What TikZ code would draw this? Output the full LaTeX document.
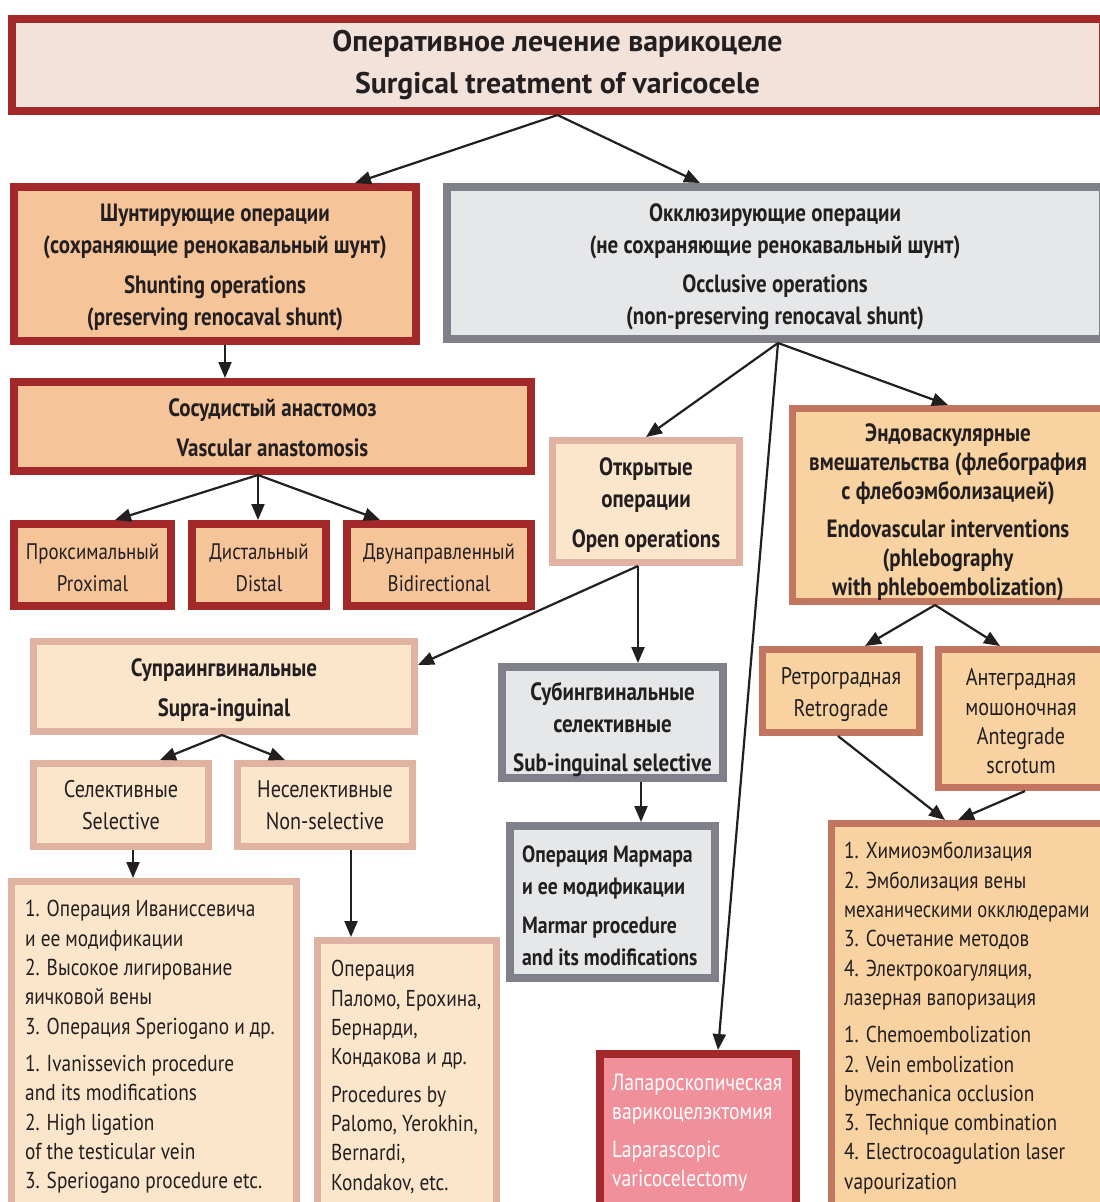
\documentclass[tikz,border=0pt]{standalone}
\usepackage{fontspec}
\setmainfont{PT Sans}[FakeStretch=0.84]
\newfontfamily\titlefont{PT Sans}
\usetikzlibrary{arrows.meta,calc}
\definecolor{cRed}{HTML}{A3282A}
\definecolor{cTitle}{HTML}{F2E2DA}
\definecolor{cPeach}{HTML}{F5C499}
\definecolor{cGrayB}{HTML}{80808A}
\definecolor{cGrayF}{HTML}{E6E7E8}
\definecolor{cPinkB}{HTML}{DFB2A1}
\definecolor{cCream}{HTML}{FBE6CC}
\definecolor{cTerra}{HTML}{C2765F}
\definecolor{cSand}{HTML}{F8D2A1}
\definecolor{cLap}{HTML}{F0909A}
\definecolor{cInk}{HTML}{231F20}
\tikzset{
  base/.style={rectangle, inner sep=0pt, align=center, text=cInk},
  redbox/.style={base, draw=cRed, line width=8pt, fill=cPeach},
  titlebox/.style={base, draw=cRed, line width=8pt, fill=cTitle},
  graybox/.style={base, draw=cGrayB, line width=8pt, fill=cGrayF},
  pinkbox/.style={base, draw=cPinkB, line width=7pt, fill=cCream},
  terrabox/.style={base, draw=cTerra, line width=7pt, fill=cSand},
  lapbox/.style={base, draw=cRed, line width=8pt, fill=cLap},
  txt/.style={inner sep=0pt, align=center, text=cInk},
  hd/.style={txt, font=\fontsize{25}{32}\selectfont\bfseries},
  hdt/.style={txt, font=\fontsize{25}{29}\selectfont\bfseries},
  rg/.style={txt, font=\fontsize{22.5}{32}\selectfont},
  rgb/.style={txt, font=\fontsize{24}{32}\selectfont},
  rgt/.style={txt, font=\fontsize{24}{29.3}\selectfont},
  listtxt/.style={inner sep=0pt, align=left, anchor=west, text=cInk, font=\fontsize{23}{29.3}\selectfont},
  arr/.style={line width=2.2pt, draw=cInk, -{Triangle[length=16pt,width=13pt]}},
}
\begin{document}
\begin{tikzpicture}[x=1pt,y=-1pt]
\useasboundingbox (0,0) rectangle (1100,1202);
\fill[white] (0,0) rectangle (1100,1202);

% title
\node[titlebox, minimum width=1091pt, minimum height=92pt, font=\titlefont\fontsize{29.8}{42}\selectfont\bfseries] (title) at (557.5,65)
  {Оперативное лечение варикоцеле\\Surgical treatment of varicocele};

% level 1
\node[redbox, minimum width=402pt, minimum height=154pt] (shunt) at (215,264) {};
\node[hd] (shuntt) at ([yshift=-3pt]shunt.center)
  {Шунтирующие операции\\(сохраняющие ренокавальный шунт)\\[8pt]Shunting operations\\(preserving renocaval shunt)};
\node[graybox, minimum width=656pt, minimum height=152pt] (occl) at (775,263) {};
\node[hd] (occlt) at ([yshift=-3.5pt]occl.center)
  {Окклюзирующие операции\\(не сохраняющие ренокавальный шунт)\\[7pt]Occlusive operations\\(non-preserving renocaval shunt)};

% shunting branch
\node[redbox, minimum width=517pt, minimum height=89pt] (vasc) at (272.5,426.5) {};
\node[hd] (vasct) at ([yshift=-1pt]vasc.center) {Сосудистый анастомоз\\[8pt]Vascular anastomosis};
\node[redbox, minimum width=157pt, minimum height=82pt] (prox) at (92.5,565) {};
\node[rg] (proxt) at ([yshift=-2.5pt]prox.center) {Проксимальный\\Proximal};
\node[redbox, minimum width=134pt, minimum height=82pt] (dist) at (259,565) {};
\node[rg] (distt) at ([yshift=-2.5pt]dist.center) {Дистальный\\Distal};
\node[redbox, minimum width=184pt, minimum height=82pt] (bidir) at (439,565) {};
\node[rg] (bidirt) at ([yshift=-2.5pt]bidir.center) {Двунаправленный\\Bidirectional};

% occlusive branch
\node[pinkbox, minimum width=187pt, minimum height=122pt] (open) at (646,501.5) {};
\node[hd] (opent) at ([yshift=-4pt]open.center) {Открытые\\операции\\[8pt]Open operations};
\node[terrabox, minimum width=311pt, minimum height=193pt] (endo) at (948,505) {};
\node[hdt] (endot) at ([yshift=-7pt]endo.center)
  {Эндоваскулярные\\вмешательства (флебография\\с флебоэмболизацией)\\[9pt]Endovascular interventions\\(phlebography\\with phleboembolization)};

\node[pinkbox, minimum width=381pt, minimum height=90pt] (supra) at (224,686.5) {};
\node[hd] (suprat) at ([yshift=-4pt]supra.center) {Супраингвинальные\\[8pt]Supra-inguinal};
\node[pinkbox, minimum width=175pt, minimum height=83pt] (sel) at (121,805) {};
\node[rgb] (selt) at (sel.center) {Селективные\\Selective};
\node[pinkbox, minimum width=175pt, minimum height=83pt] (nonsel) at (325,805) {};
\node[rgb] (nonselt) at (nonsel.center) {Неселективные\\Non-selective};

\node[pinkbox, minimum width=285pt, minimum height=330pt] (list1) at (154,1046.5) {};
\node[listtxt] (list1t) at (25,1047)
  {1. Операция Иванисcевича\\и ее модификации\\2. Высокое лигирование\\яичковой вены\\3. Операция Speriogano и др.\\[8pt]1. Ivanissevich procedure\\and its modifications\\2. High ligation\\of the testicular vein\\3. Speriogano procedure etc.};

\node[pinkbox, minimum width=179pt, minimum height=271pt] (list2) at (407,1076) {};
\node[listtxt] (list2t) at (331,1077)
  {Операция\\Паломо, Ерохина,\\Бернарди,\\Кондакова и др.\\[8pt]Procedures by\\Palomo, Yerokhin,\\Bernardi,\\Kondakov, etc.};

\node[graybox, minimum width=221pt, minimum height=111pt] (sub) at (612.5,722.5) {};
\node[hd] (subt) at ([yshift=-7pt]sub.center) {Субингвинальные\\селективные\\[7pt]Sub-inguinal selective};
\node[graybox, minimum width=205pt, minimum height=152pt] (marmar) at (612.5,902) {};
\node[listtxt, font=\fontsize{23.5}{31.5}\selectfont\bfseries] (marmart) at (522,906)
  {Операция Мармара\\и ее модификации\\[8pt]Marmar procedure\\and its modifications};

\node[lapbox, minimum width=196pt, minimum height=157pt] (lap) at (698,1132.5) {};
\node[listtxt, text=white, font=\fontsize{23.4}{29.5}\selectfont] (lapt) at (612,1132.5)
  {Лапароскопическая\\варикоцелэктомия\\[8pt]Laparascopic\\varicocelectomy};

\node[terrabox, minimum width=157pt, minimum height=83pt] (retro) at (841,691) {};
\node[rgb] (retrot) at ([yshift=-4pt]retro.center) {Ретроградная\\Retrograde};
\node[terrabox, minimum width=165pt, minimum height=138pt] (ante) at (1021,718.5) {};
\node[rgt] (antet) at ([yshift=-3pt]ante.center) {Антеградная\\мошоночная\\Antegrade\\scrotum};

\node[terrabox, minimum width=272pt, minimum height=388pt] (list3) at (967.5,1017.5) {};
\node[listtxt] (list3t) at (844,1018)
  {1. Химиоэмболизация\\2. Эмболизация вены\\\scalebox{0.965}[1]{механическими окклюдерами}\\3. Сочетание методов\\4. Электрокоагуляция,\\лазерная вапоризация\\[8pt]1. Chemoembolization\\2. Vein embolization\\bymechanica occlusion\\3. Technique combination\\4. Electrocoagulation laser\\vapourization};

% connectors
\draw[arr] (title.south) -- ([xshift=140pt]shunt.north);
\draw[arr] (title.south) -- ([xshift=-75pt]occl.north);
\draw[arr] ([xshift=10pt]shunt.south) -- ([xshift=-47.5pt]vasc.north);
\draw[arr] ([xshift=-14.5pt]vasc.south) -- ([xshift=22.5pt]prox.north);
\draw[arr] ([xshift=-14.5pt]vasc.south) -- ([xshift=-1pt]dist.north);
\draw[arr] ([xshift=-14.5pt]vasc.south) -- ([xshift=-59pt]bidir.north);
\draw[arr] ([xshift=3pt]occl.south) -- (open.north);
\draw[arr] ([xshift=3pt]occl.south) -- (endo.north);
\draw[arr] ([xshift=3pt]occl.south) -- ([xshift=20pt]lap.north);
\draw[arr] ([xshift=-8pt]open.south) -- ([yshift=21.5pt]supra.east);
\draw[arr] ([xshift=-8pt]open.south) -- ([xshift=25.5pt]sub.north);
\draw[arr] ([xshift=-2pt]supra.south) -- ([xshift=39pt]sel.north);
\draw[arr] ([xshift=-2pt]supra.south) -- ([xshift=-40pt]nonsel.north);
\draw[arr] ([xshift=12pt]sel.south) -- ([xshift=-21pt]list1.north);
\draw[arr] ([xshift=26pt]nonsel.south) -- ([xshift=-56pt]list2.north);
\draw[arr] ([xshift=28.5pt]sub.south) -- ([xshift=28.5pt]marmar.north);
\draw[arr] ([xshift=-13pt]endo.south) -- ([xshift=24pt]retro.north);
\draw[arr] ([xshift=-13pt]endo.south) -- ([xshift=-21pt]ante.north);
\draw[arr] ([xshift=-3pt]retro.south) -- ([xshift=-22.5pt]list3.north);
\draw[arr] ([xshift=4pt]ante.south) -- ([xshift=-9.5pt]list3.north);
\end{tikzpicture}
\end{document}
